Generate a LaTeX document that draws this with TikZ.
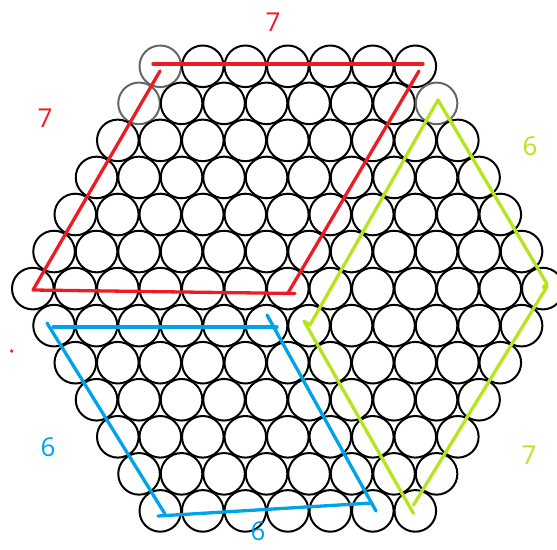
\documentclass[tikz,border=0pt]{standalone}
\usepackage{fontspec}
\setmainfont{Open Sans}
\definecolor{pred}{RGB}{237,28,36}
\definecolor{pblue}{RGB}{0,162,232}
\definecolor{pgreen}{RGB}{181,230,29}
\begin{document}
\begin{tikzpicture}[x=1pt,y=-1pt,
  ball/.style={line width=2pt},
  mark line/.style={line width=3.3pt,line cap=round,line join=round},
  lab/.style={font=\fontsize{26}{30}\selectfont,inner sep=0pt}]
\useasboundingbox (0,0) rectangle (557,549);
\clip (0,0) rectangle (557,549);
% circles
\foreach \r in {0,...,12}{
  \pgfmathtruncatemacro\m{6-abs(\r-6)}
  \pgfmathtruncatemacro\n{6+\m}
  \foreach \k in {0,...,\n}{
    \pgfmathsetmacro\cx{160.3-21.25*\m+42.5*\k}
    \pgfmathsetmacro\cy{66.3+37.05*\r}
    \pgfmathtruncatemacro\g{((\r==0)&&(\k==0))||((\r==1)&&((\k==0)||(\k==7)))}
    \ifnum\g=1
      \draw[ball,draw=black!60] (\cx,\cy) circle[radius=20.8];
    \else
      \draw[ball,draw=black] (\cx,\cy) circle[radius=20.8];
    \fi
  }
}
% red parallelogram
\coordinate (ra) at (153,64);
\coordinate (rb) at (423,64);
\coordinate (rc) at (160,71);
\coordinate (rd) at (33,290);
\coordinate (re) at (295,293.5);
\coordinate (rf) at (419,71);
\coordinate (rg) at (288,293);
\draw[mark line,pred] (ra) -- (rb);
\draw[mark line,pred] (rc) -- (rd) -- (re);
\draw[mark line,pred] (rf) -- (rg);
% green rhombus
\coordinate (ga) at (438,100);
\coordinate (gb) at (310,325);
\coordinate (gc) at (304,321);
\coordinate (gd) at (413.5,513.5);
\coordinate (ge) at (547,284);
\coordinate (gf) at (543,287.5);
\coordinate (gg) at (547,286.5);
\coordinate (gh) at (413.5,505);
\draw[mark line,pgreen] (ga) -- (gb) -- (gc) -- (gd);
\draw[mark line,pgreen] (ga) -- (ge) -- (gf);
\draw[mark line,pgreen] (gg) -- (gh);
% blue parallelogram
\coordinate (ba) at (53,327);
\coordinate (bb) at (277,327);
\coordinate (bc) at (47,323);
\coordinate (bd) at (165,514);
\coordinate (be) at (158,516);
\coordinate (bf) at (372,503);
\coordinate (bg) at (267,315);
\coordinate (bh) at (376,511);
\draw[mark line,pblue] (ba) -- (bb);
\draw[mark line,pblue] (bc) -- (bd);
\draw[mark line,pblue] (be) -- (bf);
\draw[mark line,pblue] (bg) -- (bh);
% stray dot
\fill[pred] (11.7,351) circle[radius=1.8];
% labels
\node[lab,text=pred] (l1) at (273,22) {7};
\node[lab,text=pred] (l2) at (45,118) {7};
\node[lab,text=pgreen] (l3) at (530,146) {6};
\node[lab,text=pgreen] (l4) at (529,455) {7};
\node[lab,text=pblue] (l5) at (48,447) {6};
\node[lab,text=pblue] (l6) at (258,531) {6};
\end{tikzpicture}
\end{document}
